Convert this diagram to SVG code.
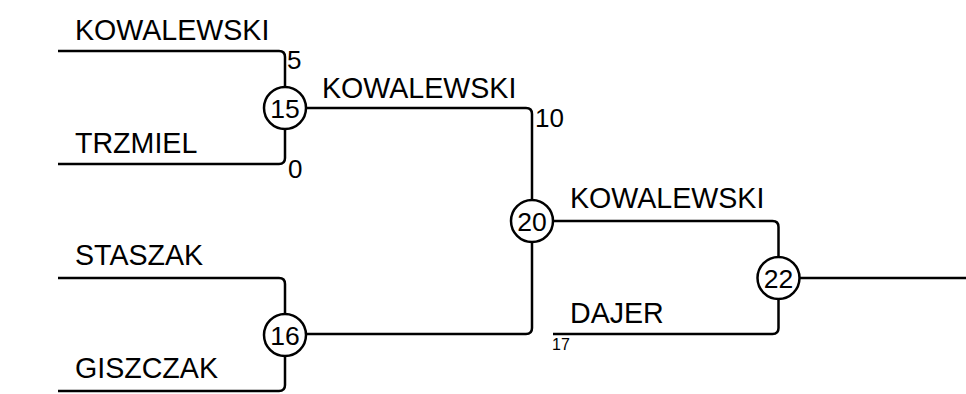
<svg xmlns="http://www.w3.org/2000/svg" width="966" height="394" viewBox="0 0 966 394">
<style>
.c{fill:none;stroke:#000;stroke-width:2.5;stroke-linejoin:round}
.n{fill:#fff;stroke:#000;stroke-width:2.5}
.name{font-family:"Liberation Sans",Arial,sans-serif;font-size:28.6px;fill:#000}
.num{font-family:"Liberation Sans",Arial,sans-serif;font-size:26.5px;fill:#000;text-anchor:middle}
.sc{font-family:"Liberation Sans",Arial,sans-serif;font-size:26px;fill:#000}
.sm{font-family:"Liberation Sans",Arial,sans-serif;font-size:16px;fill:#000}
</style>
<rect width="966" height="394" fill="#fff"/>
<g id="connectors">
<path class="c" d="M58,51 H279 Q285,51 285,57 V87"/>
<path class="c" d="M58,164 H279 Q285,164 285,158 V129"/>
<path class="c" d="M58,278 H279 Q285,278 285,284 V314"/>
<path class="c" d="M58,391 H279 Q285,391 285,385 V356"/>
<path class="c" d="M306,108 H526 Q532,108 532,114 V200"/>
<path class="c" d="M306,334 H526 Q532,334 532,328 V242"/>
<path class="c" d="M553,221 H772.5 Q778.5,221 778.5,227 V257"/>
<path class="c" d="M553,334 H772.5 Q778.5,334 778.5,328 V299"/>
<path class="c" d="M799.5,278 H966"/>
</g>
<g id="labels">
<text class="name" x="75" y="40">KOWALEWSKI</text>
<text class="name" x="75" y="153">TRZMIEL</text>
<text class="name" x="75" y="265">STASZAK</text>
<text class="name" x="75" y="378">GISZCZAK</text>
<text class="name" x="322" y="98">KOWALEWSKI</text>
<text class="name" x="570" y="208">KOWALEWSKI</text>
<text class="name" x="570" y="323">DAJER</text>
<text class="sc" x="287" y="69">5</text>
<text class="sc" x="288" y="178">0</text>
<text class="sc" x="535" y="127">10</text>
<text class="sm" x="552" y="350">17</text>
</g>
<g id="node15"><circle class="n" cx="285" cy="108" r="21"/><text class="num" x="285" y="117.5">15</text></g>
<g id="node16"><circle class="n" cx="285" cy="335" r="21"/><text class="num" x="285" y="344.5">16</text></g>
<g id="node20"><circle class="n" cx="532" cy="221" r="21"/><text class="num" x="532" y="230.5">20</text></g>
<g id="node22"><circle class="n" cx="778.5" cy="278" r="21"/><text class="num" x="778.5" y="287.5">22</text></g>
</svg>
